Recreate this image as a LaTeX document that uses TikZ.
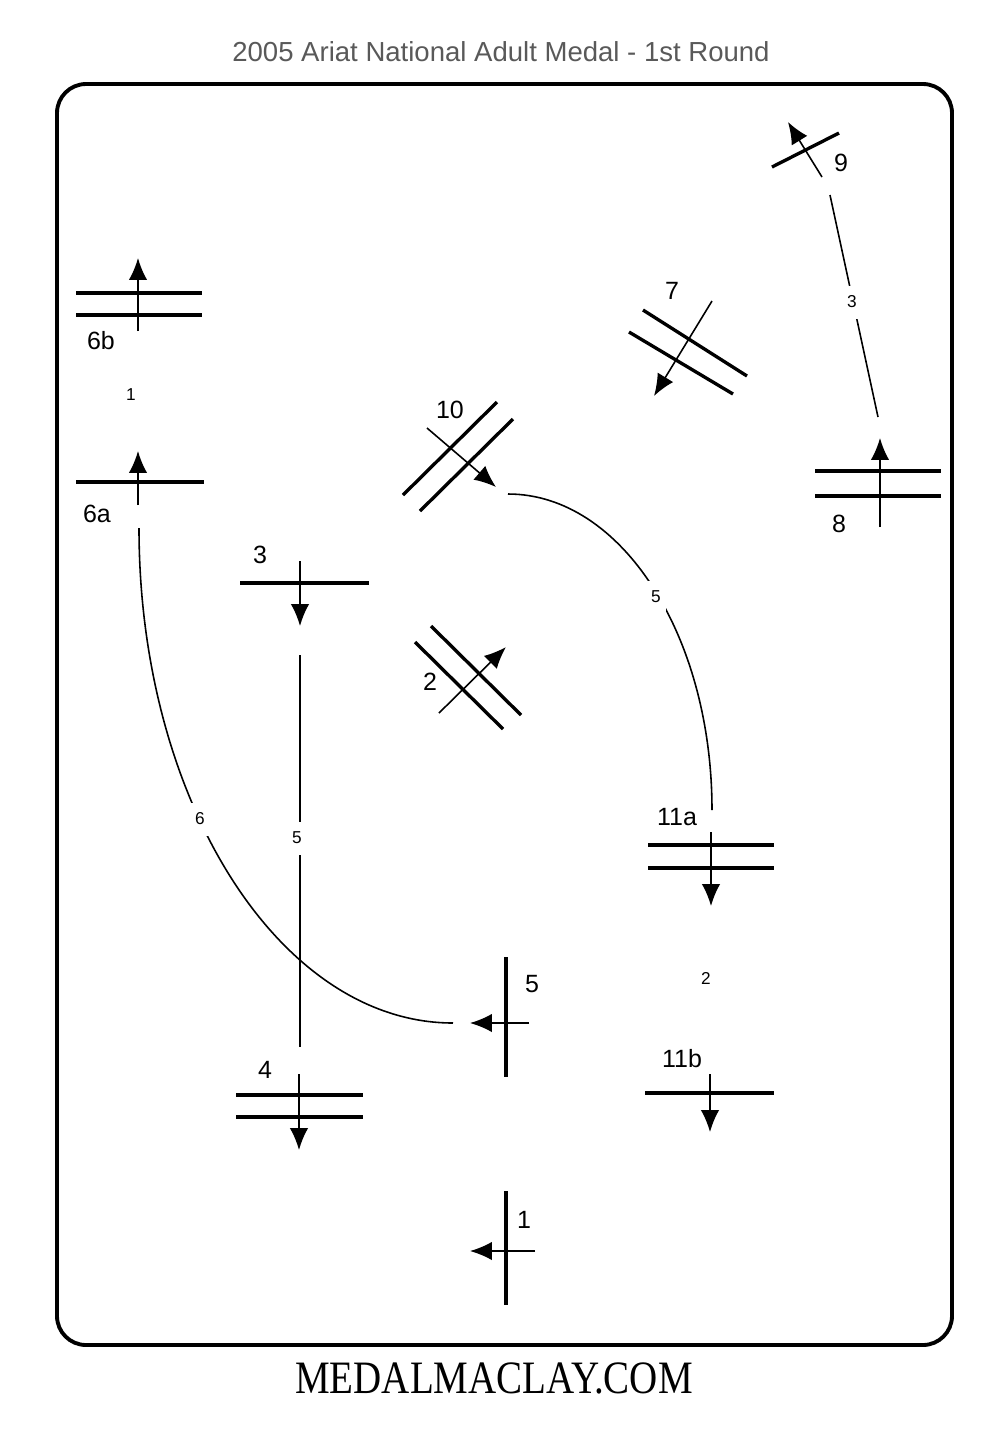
\documentclass[tikz,border=0pt]{standalone}
\usepackage{fontspec}
\setmainfont{Liberation Sans}
\newfontfamily\footfont[FakeStretch=0.84]{Liberation Serif}
\usetikzlibrary{arrows.meta}
\definecolor{titlegray}{gray}{0.35}
\tikzset{
  fence/.style={line width=.95pt},
  ride/.style={line width=.45pt, -{Latex[length=6.2pt, width=5.2pt]}},
  track/.style={line width=.45pt},
  num/.style={inner sep=0pt, font=\fontsize{7.1}{8}\selectfont},
  dist/.style={inner sep=0pt, fill=white, minimum width=.2cm, minimum height=.33cm, font=\fontsize{4.9}{6}\selectfont}
}

\begin{document}
\begin{tikzpicture}[x=.01cm, y=-.01cm]
  \useasboundingbox (0,0) rectangle (1000,1429);
  \node[inner sep=0pt, text=titlegray, font=\fontsize{7.83}{9}\selectfont] (title) at (501,52) {2005 Ariat National Adult Medal - 1st Round};
  \node[inner sep=0pt, font=\footfont\fontsize{13.2}{15}\selectfont] (site) at (494,1378) {MEDALMACLAY.COM};
  \draw[line width=1.1pt, rounded corners=.29cm] (57,84) rectangle (952,1345);

  % fence 1
  \coordinate (f1a) at (506,1191); \coordinate (f1b) at (506,1305);
  \coordinate (r1a) at (535,1251); \coordinate (r1b) at (470,1251);
  \draw[fence] (f1a) -- (f1b); \draw[ride] (r1a) -- (r1b);
  \node[num] (n1) at (524,1220) {1};

  % fence 2
  \coordinate (f2a) at (431,626); \coordinate (f2b) at (521,715);
  \coordinate (f2c) at (415,642); \coordinate (f2d) at (503,729);
  \coordinate (r2a) at (439,713); \coordinate (r2b) at (506,647);
  \draw[fence] (f2a) -- (f2b); \draw[fence] (f2c) -- (f2d); \draw[ride] (r2a) -- (r2b);
  \node[num] (n2) at (430,682) {2};

  % fence 3
  \coordinate (f3a) at (240,583); \coordinate (f3b) at (369,583);
  \coordinate (r3a) at (300,561); \coordinate (r3b) at (300,626);
  \draw[fence] (f3a) -- (f3b); \draw[ride] (r3a) -- (r3b);
  \node[num] (n3) at (260,555) {3};

  % fence 4
  \coordinate (f4a) at (236,1095); \coordinate (f4b) at (363,1095);
  \coordinate (f4c) at (236,1117); \coordinate (f4d) at (363,1117);
  \coordinate (r4a) at (299,1074); \coordinate (r4b) at (299,1150);
  \draw[fence] (f4a) -- (f4b); \draw[fence] (f4c) -- (f4d); \draw[ride] (r4a) -- (r4b);
  \node[num] (n4) at (265,1070) {4};

  % fence 5
  \coordinate (f5a) at (506,957); \coordinate (f5b) at (506,1077);
  \coordinate (r5a) at (529,1023); \coordinate (r5b) at (470,1023);
  \draw[fence] (f5a) -- (f5b); \draw[ride] (r5a) -- (r5b);
  \node[num] (n5) at (532,984) {5};

  % fences 6a, 6b
  \coordinate (f6a) at (76,482); \coordinate (f6b) at (204,482);
  \coordinate (r6a) at (138,505); \coordinate (r6b) at (138,451);
  \draw[fence] (f6a) -- (f6b); \draw[ride] (r6a) -- (r6b);
  \node[num] (n6a) at (97,514) {6a};
  \coordinate (f6c) at (76,293); \coordinate (f6d) at (202,293);
  \coordinate (f6e) at (76,315); \coordinate (f6f) at (202,315);
  \coordinate (r6c) at (138,331); \coordinate (r6d) at (138,258);
  \draw[fence] (f6c) -- (f6d); \draw[fence] (f6e) -- (f6f); \draw[ride] (r6c) -- (r6d);
  \node[num] (n6b) at (101,341) {6b};

  % fence 7
  \coordinate (f7a) at (643,310); \coordinate (f7b) at (747,376);
  \coordinate (f7c) at (629,332); \coordinate (f7d) at (733,394);
  \coordinate (r7a) at (712,301); \coordinate (r7b) at (654,396);
  \draw[fence] (f7a) -- (f7b); \draw[fence] (f7c) -- (f7d); \draw[ride] (r7a) -- (r7b);
  \node[num] (n7) at (672,291) {7};

  % fence 8
  \coordinate (f8a) at (815,471); \coordinate (f8b) at (941,471);
  \coordinate (f8c) at (815,496); \coordinate (f8d) at (941,496);
  \coordinate (r8a) at (880,527); \coordinate (r8b) at (880,438);
  \draw[fence] (f8a) -- (f8b); \draw[fence] (f8c) -- (f8d); \draw[ride] (r8a) -- (r8b);
  \node[num] (n8) at (839,524) {8};

  % fence 9
  \coordinate (f9a) at (772,167); \coordinate (f9b) at (839,133);
  \coordinate (r9a) at (822,177); \coordinate (r9b) at (788,122);
  \draw[fence] (f9a) -- (f9b); \draw[ride] (r9a) -- (r9b);
  \node[num] (n9) at (841,163) {9};

  % fence 10
  \coordinate (f10a) at (497,402); \coordinate (f10b) at (403,495);
  \coordinate (f10c) at (513,419); \coordinate (f10d) at (420,511);
  \coordinate (r10a) at (427,428); \coordinate (r10b) at (496,487);
  \draw[fence] (f10a) -- (f10b); \draw[fence] (f10c) -- (f10d); \draw[ride] (r10a) -- (r10b);
  \node[num] (n10) at (450,410) {10};

  % fences 11a, 11b
  \coordinate (f11a) at (648,845); \coordinate (f11b) at (774,845);
  \coordinate (f11c) at (648,868); \coordinate (f11d) at (774,868);
  \coordinate (r11a) at (711,832); \coordinate (r11b) at (711,906);
  \draw[fence] (f11a) -- (f11b); \draw[fence] (f11c) -- (f11d); \draw[ride] (r11a) -- (r11b);
  \node[num] (n11a) at (677,817) {11a};
  \coordinate (f11e) at (645,1093); \coordinate (f11f) at (774,1093);
  \coordinate (r11c) at (710,1074); \coordinate (r11d) at (710,1132);
  \draw[fence] (f11e) -- (f11f); \draw[ride] (r11c) -- (r11d);
  \node[num] (n11b) at (682,1059) {11b};

  % tracks between fences
  \coordinate (t1a) at (300,655); \coordinate (t1b) at (300,1047);
  \coordinate (t2a) at (830,195); \coordinate (t2b) at (878,417);
  \coordinate (t3a) at (139,528); \coordinate (t3b) at (453,1023);
  \coordinate (t4a) at (508,494); \coordinate (t4b) at (712,810);
  \draw[track] (t1a) -- (t1b);
  \draw[track] (t2a) -- (t2b);
  \draw[track] (t3a) .. controls (139,801) and (280,1023) .. (t3b);
  \draw[track] (t4a) .. controls (621,494) and (712,635) .. (t4b);

  \node[dist] (d1) at (297,838) {5};
  \node[dist] (d2) at (852,302) {3};
  \node[dist] (d3) at (200,819) {6};
  \node[dist] (d4) at (656,597) {5};
  \node[dist] (d5) at (131,395) {1};
  \node[dist] (d6) at (706,978) {2};
\end{tikzpicture}
\end{document}
